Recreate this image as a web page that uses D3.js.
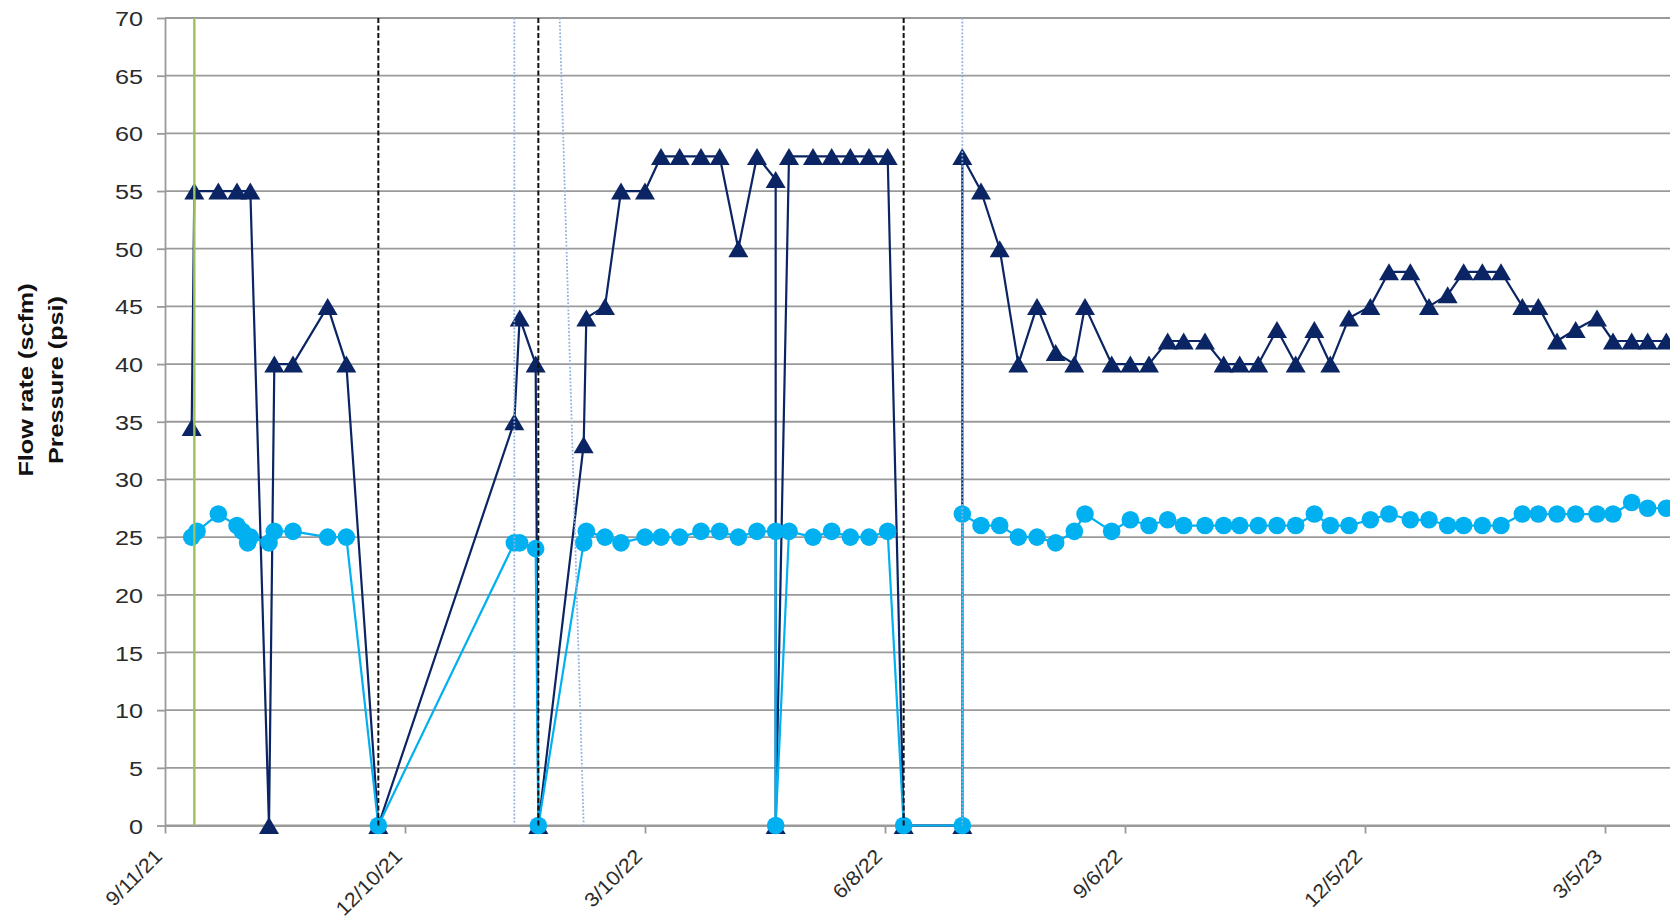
<!DOCTYPE html>
<html>
<head>
<meta charset="utf-8">
<script src="https://cdn.jsdelivr.net/npm/d3@7"></script>
<style>
  html, body { margin: 0; padding: 0; background: #ffffff; }
  svg { display: block; font-family: "Liberation Sans", Arial, sans-serif; }
</style>
</head>
<body>
<svg id="chart" width="1670" height="923"></svg>
<script>
// ---- axis labels ----
const yTicks = [0, 5, 10, 15, 20, 25, 30, 35, 40, 45, 50, 55, 60, 65, 70];
const tickDates = ["9/11/21", "12/10/21", "3/10/22", "6/8/22", "9/6/22", "12/5/22", "3/5/23"];
const tickLabels = ["9/11/21", "12/10/21", "3/10/22", "6/8/22", "9/6/22", "12/5/22", "3/5/23"];
const titleLines = ["Flow rate (scfm)", "Pressure (psi)"];

// ---- flow rate readings (scfm) ----
const flowDates = [
  "9/21/21", "9/22/21", "10/1/21", "10/8/21", "10/13/21", "10/20/21", "10/22/21", "10/29/21", "11/11/21", "11/18/21", "11/30/21",
  "1/20/22", "1/22/22", "1/28/22", "1/29/22",
  "2/15/22", "2/16/22", "2/23/22", "3/1/22", "3/10/22",
  "3/16/22", "3/23/22", "3/31/22", "4/7/22", "4/14/22", "4/21/22", "4/28/22", "4/28/22",
  "5/3/22", "5/12/22", "5/19/22", "5/26/22", "6/2/22", "6/9/22", "6/15/22",
  "7/7/22", "7/7/22", "7/14/22", "7/21/22", "7/28/22",
  "8/4/22", "8/11/22", "8/18/22", "8/22/22",
  "9/1/22", "9/8/22", "9/15/22", "9/22/22", "9/28/22",
  "10/6/22", "10/13/22", "10/19/22", "10/26/22",
  "11/2/22", "11/9/22", "11/16/22", "11/22/22", "11/29/22",
  "12/7/22", "12/14/22", "12/22/22", "12/29/22",
  "1/5/23", "1/11/23", "1/18/23", "1/25/23",
  "2/2/23", "2/8/23", "2/15/23", "2/22/23",
  "3/2/23", "3/8/23", "3/15/23", "3/21/23", "3/28/23"
];
const flowValues = [
  34.5, 55, 55, 55, 55, 0, 40, 40, 45, 40, 0,
  35, 44, 40, 0,
  33, 44, 45, 55, 55,
  58, 58, 58, 58, 50, 58, 56, 0,
  58, 58, 58, 58, 58, 58, 0,
  0, 58, 55, 50, 40,
  45, 41, 40, 45,
  40, 40, 40, 42, 42,
  42, 40, 40, 40,
  43, 40, 43, 40, 44,
  45, 48, 48, 45,
  46, 48, 48, 48,
  45, 45, 42, 43,
  44, 42, 42, 42, 42
];

// ---- pressure readings (psi) ----
const pressureDates = [
  "9/21/21", "9/23/21", "10/1/21", "10/8/21", "10/10/21", "10/12/21", "10/13/21", "10/20/21", "10/22/21", "10/29/21", "11/11/21", "11/18/21", "11/30/21",
  "1/20/22", "1/22/22", "1/28/22", "1/29/22",
  "2/15/22", "2/16/22", "2/23/22", "3/1/22", "3/10/22",
  "3/16/22", "3/23/22", "3/31/22", "4/7/22", "4/14/22", "4/21/22", "4/28/22", "4/28/22",
  "5/3/22", "5/12/22", "5/19/22", "5/26/22", "6/2/22", "6/9/22", "6/15/22",
  "7/7/22", "7/7/22", "7/14/22", "7/21/22", "7/28/22",
  "8/4/22", "8/11/22", "8/18/22", "8/22/22",
  "9/1/22", "9/8/22", "9/15/22", "9/22/22", "9/28/22",
  "10/6/22", "10/13/22", "10/19/22", "10/26/22",
  "11/2/22", "11/9/22", "11/16/22", "11/22/22", "11/29/22",
  "12/7/22", "12/14/22", "12/22/22", "12/29/22",
  "1/5/23", "1/11/23", "1/18/23", "1/25/23",
  "2/2/23", "2/8/23", "2/15/23", "2/22/23",
  "3/2/23", "3/8/23", "3/15/23", "3/21/23", "3/28/23"
];
const pressureValues = [
  25, 25.5, 27, 26, 25.5, 24.5, 25, 24.5, 25.5, 25.5, 25, 25, 0,
  24.5, 24.5, 24, 0,
  24.5, 25.5, 25, 24.5, 25,
  25, 25, 25.5, 25.5, 25, 25.5, 25.5, 0,
  25.5, 25, 25.5, 25, 25, 25.5, 0,
  0, 27, 26, 26, 25,
  25, 24.5, 25.5, 27,
  25.5, 26.5, 26, 26.5, 26,
  26, 26, 26, 26,
  26, 26, 27, 26, 26,
  26.5, 27, 26.5, 26.5,
  26, 26, 26, 26,
  27, 27, 27, 27,
  27, 27, 28, 27.5, 27.5
];

// ---- event markers ----
const startDates = ["9/22/21"];                              // system start
const shutdownDates = ["11/30/21", "1/29/22", "6/15/22"];    // shutdowns
const eventTopDates = ["1/20/22", "2/6/22", "7/7/22"];       // other events (top end)
const eventBottomDates = ["1/20/22", "2/15/22", "7/7/22"];   // other events (bottom end)

// ---- layout ----
const W = 1670, H = 923;
const plotLeft = 165, plotTop = 18, plotBottom = 825.5;
const pxPerDay = 240 / 90;
const parse = d3.utcParse("%m/%d/%y");

const x = d3.scaleUtc()
  .domain([parse("9/11/21"), parse("4/9/23")])
  .range([plotLeft, plotLeft + 575 * pxPerDay]);
const y = d3.scaleLinear().domain([0, 70]).range([plotBottom, plotTop]);

const svg = d3.select("#chart");
const gridColor = "#9a9a9a";
const textColor = "#2b2b2b";
const navy = "#0b2463";
const sky = "#00b0f0";

// horizontal gridlines
svg.append("g").selectAll("line").data(yTicks).join("line")
  .attr("x1", plotLeft).attr("x2", W)
  .attr("y1", d => y(d)).attr("y2", d => y(d))
  .attr("stroke", gridColor).attr("stroke-width", 1.8);

// y axis
const yAxis = svg.append("g")
  .attr("transform", `translate(${plotLeft},0)`)
  .call(d3.axisLeft(y).tickValues(yTicks).tickSize(8).tickPadding(14).tickSizeOuter(0));
yAxis.select(".domain").attr("stroke", gridColor).attr("stroke-width", 1.8);
yAxis.selectAll(".tick line").attr("stroke", gridColor).attr("stroke-width", 1.8);
yAxis.selectAll(".tick text")
  .attr("x", 0).attr("dy", "0.36em")
  .attr("transform", "translate(-22,0) scale(1.2,1)")
  .attr("fill", textColor).attr("font-size", 21)
  .attr("font-family", "Liberation Sans, Arial, sans-serif");

// x axis
const xAxis = svg.append("g")
  .attr("transform", `translate(0,${plotBottom})`)
  .call(d3.axisBottom(x)
    .tickValues(tickDates.map(parse))
    .tickFormat((d, i) => tickLabels[i])
    .tickSize(8).tickSizeOuter(0));
xAxis.select(".domain").attr("stroke", gridColor).attr("stroke-width", 1.8);
xAxis.selectAll(".tick line").attr("stroke", gridColor).attr("stroke-width", 1.8);
xAxis.selectAll(".tick text")
  .attr("x", 0).attr("y", 0).attr("dy", 0)
  .attr("text-anchor", "end")
  .attr("transform", "translate(-2,32) rotate(-45) scale(1.08,1)")
  .attr("fill", textColor).attr("font-size", 20)
  .attr("font-family", "Liberation Sans, Arial, sans-serif");

// y axis title (two lines)
svg.append("g").selectAll("text").data(titleLines).join("text")
  .attr("transform", (d, i) => `translate(${33 + i * 30},380) rotate(-90) scale(1.2,1)`)
  .attr("text-anchor", "middle")
  .attr("font-weight", "bold").attr("font-size", 21)
  .attr("fill", "#111")
  .text(d => d);

// series
const flow = flowDates.map((d, i) => ({ date: parse(d), value: flowValues[i] }));
const pressure = pressureDates.map((d, i) => ({ date: parse(d), value: pressureValues[i] }));
const line = d3.line().x(d => x(d.date)).y(d => y(d.value));

const triangle = "M0,-8.5L10,8.5L-10,8.5Z";

svg.append("path").datum(flow)
  .attr("fill", "none").attr("stroke", navy).attr("stroke-width", 2.2)
  .attr("stroke-linejoin", "round").attr("d", line);
svg.append("g").selectAll("path").data(flow).join("path")
  .attr("transform", d => `translate(${x(d.date)},${y(d.value)})`)
  .attr("d", triangle).attr("fill", navy);

svg.append("path").datum(pressure)
  .attr("fill", "none").attr("stroke", sky).attr("stroke-width", 2.2)
  .attr("stroke-linejoin", "round").attr("d", line);
svg.append("g").selectAll("circle").data(pressure).join("circle")
  .attr("cx", d => x(d.date)).attr("cy", d => y(d.value))
  .attr("r", 8.8).attr("fill", sky);

// event lines
svg.append("g").selectAll("line").data(startDates).join("line")
  .attr("x1", d => x(parse(d))).attr("x2", d => x(parse(d)))
  .attr("y1", y(70)).attr("y2", y(0))
  .attr("stroke", "#9cc25c").attr("stroke-width", 2.4);

svg.append("g").selectAll("line").data(shutdownDates).join("line")
  .attr("x1", d => x(parse(d))).attr("x2", d => x(parse(d)))
  .attr("y1", y(70)).attr("y2", y(0))
  .attr("stroke", "#111").attr("stroke-width", 2)
  .attr("stroke-dasharray", "5,2.5");

svg.append("g").selectAll("line").data(eventTopDates).join("line")
  .attr("x1", d => x(parse(d))).attr("x2", (d, i) => x(parse(eventBottomDates[i])))
  .attr("y1", y(70)).attr("y2", y(0))
  .attr("stroke", "#8fb3e0").attr("stroke-width", 1.8)
  .attr("stroke-dasharray", "1.8,1.8");
</script>
</body>
</html>
